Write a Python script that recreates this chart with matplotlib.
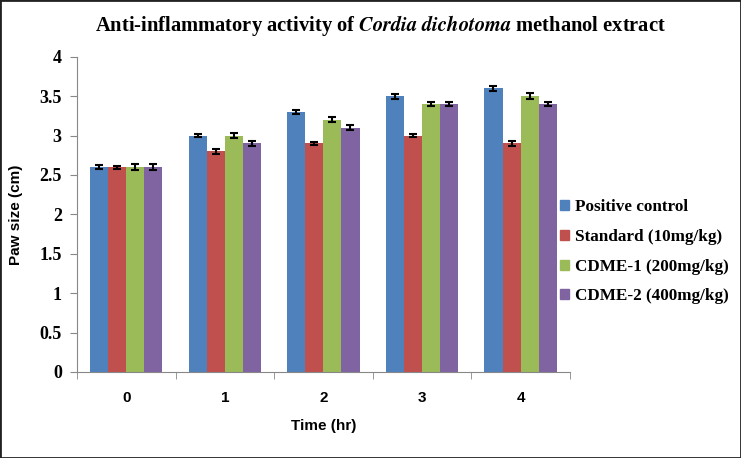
import matplotlib.pyplot as plt
import numpy as np
from matplotlib.patches import Patch

plt.rcParams["mathtext.fontset"] = "stix"

times = ["0", "1", "2", "3", "4"]
series = ["Positive control", "Standard (10mg/kg)", "CDME-1 (200mg/kg)", "CDME-2 (400mg/kg)"]
positive = [2.6, 3.0, 3.3, 3.5, 3.6]
standard = [2.6, 2.8, 2.9, 3.0, 2.9]
cdme1 = [2.6, 3.0, 3.2, 3.4, 3.5]
cdme2 = [2.6, 2.9, 3.1, 3.4, 3.4]
positive_err = [0.03, 0.02, 0.03, 0.03, 0.03]
standard_err = [0.02, 0.03, 0.02, 0.02, 0.03]
cdme1_err = [0.04, 0.03, 0.03, 0.03, 0.04]
cdme2_err = [0.04, 0.03, 0.03, 0.02, 0.02]
colors = ["#4F81BD", "#C0504D", "#9BBB59", "#8064A2"]

values = [positive, standard, cdme1, cdme2]
errors = [positive_err, standard_err, cdme1_err, cdme2_err]

fig = plt.figure(figsize=(7.41, 4.58), dpi=100)
ax = fig.add_axes([0.104, 0.188, 0.665, 0.688])

x = np.arange(len(times))
w = 0.183
for i in range(4):
    ax.bar(x + (i - 1.5) * w, values[i], w, color=colors[i],
           yerr=errors[i], capsize=3,
           error_kw=dict(ecolor="black", elinewidth=1.5, capthick=1.5))

ax.set_xlim(-0.5, 4.5)
ax.set_ylim(0, 4)
ax.set_yticks(np.arange(0, 4.01, 0.5))
ax.set_yticklabels(["0", "0.5", "1", "1.5", "2", "2.5", "3", "3.5", "4"],
                   fontfamily="Liberation Serif", fontweight="bold", fontsize=13)
ax.set_xticks(x)
ax.set_xticklabels(times, fontfamily="Liberation Sans", fontweight="bold", fontsize=11)
ax.set_xticks(np.arange(-0.5, 4.6, 1), minor=True)
ax.tick_params(axis="x", which="major", length=0, pad=14)
ax.tick_params(axis="x", which="minor", length=5, color="#888888", direction="out")
ax.tick_params(axis="y", length=5, color="#888888", direction="out", pad=6)

for s in ["top", "right"]:
    ax.spines[s].set_visible(False)
ax.spines["left"].set_color("#888888")
ax.spines["bottom"].set_color("#888888")

ax.set_xlabel("Time (hr)", fontfamily="Liberation Sans", fontweight="bold", fontsize=11, labelpad=10)
ax.set_ylabel("Paw size (cm)", fontfamily="Liberation Sans", fontweight="bold", fontsize=11, labelpad=12)

fig.text(0.513, 0.945, r"Anti-inflammatory activity of $\mathbfit{Cordia\ dichotoma}$ methanol extract",
         ha="center", va="center", fontfamily="Liberation Serif", fontweight="bold", fontsize=14.8)

handles = [Patch(color=c) for c in colors]
fig.legend(handles, series, loc="center left", bbox_to_anchor=(0.756, 0.45),
           frameon=False, borderpad=0, borderaxespad=0,
           handlelength=0.5, handleheight=0.5, handletextpad=0.35,
           labelspacing=0.8, prop=dict(family="Liberation Serif", weight="bold", size=12.3))

border = plt.Rectangle((0, 0), 1, 1, transform=fig.transFigure, fill=False,
                       edgecolor="#222222", linewidth=2)
fig.patches.append(border)

plt.savefig("out.png", dpi=100)
